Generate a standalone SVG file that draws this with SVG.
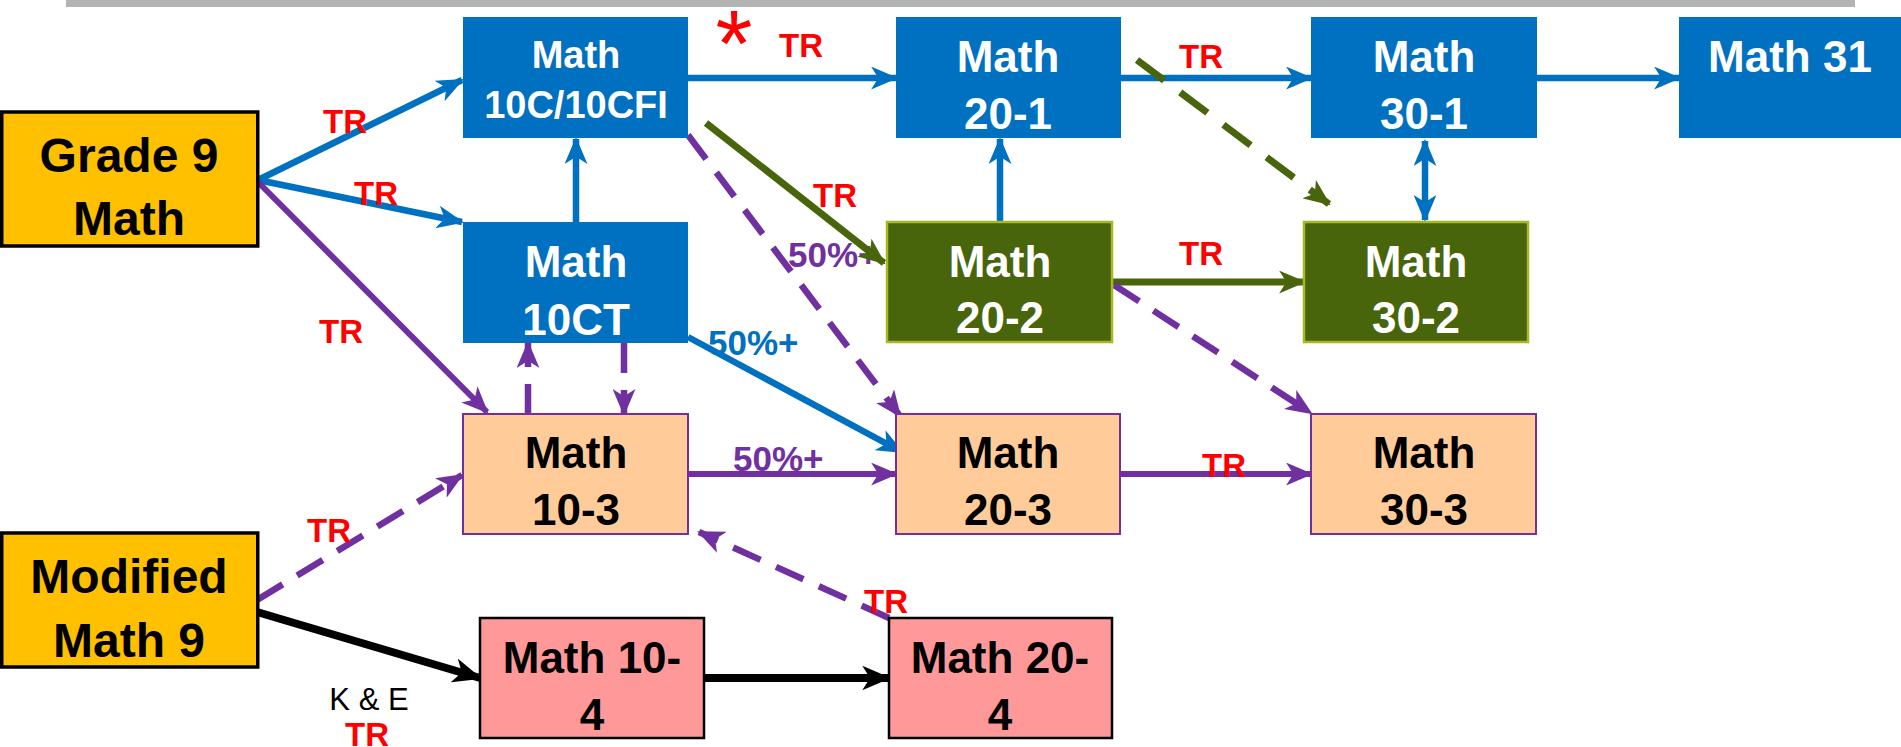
<svg xmlns="http://www.w3.org/2000/svg" width="1901" height="747" viewBox="0 0 1901 747">
<style>
text{font-family:"Liberation Sans",Arial,sans-serif;font-weight:bold;text-anchor:middle}
.n44{font-size:44px}
.n38{font-size:38px}
.n48{font-size:48px}
.w{fill:#fff}
.k{fill:#000}
.blue{fill:#0070C0}
.green{fill:#48650C;stroke:#A9B820;stroke-width:2.5}
.peach{fill:#FFCC99;stroke:#7030A0;stroke-width:2}
.pink{fill:#FF9999;stroke:#000;stroke-width:2.5}
.gold{fill:#FFC000;stroke:#000;stroke-width:3.5}
.tr{fill:#FF0000;font-size:33px}
.pct{font-size:35px;text-anchor:start}
.cb{stroke:#0070C0;stroke-width:6.5;fill:none;marker-end:url(#ab)}
.cg{stroke:#48650C;stroke-width:7;fill:none;marker-end:url(#ag)}
.cgd{stroke:#48650C;stroke-width:7;fill:none;stroke-dasharray:34 20;marker-end:url(#ag)}
.cp{stroke:#7030A0;stroke-width:6;fill:none;marker-end:url(#ap)}
.cpd{stroke:#7030A0;stroke-width:6.5;fill:none;stroke-dasharray:30 17;marker-end:url(#ap)}
.ck{stroke:#000;stroke-width:8;fill:none;marker-end:url(#ak)}
</style>
<defs>
<marker id="ab" viewBox="0 0 26 22" refX="24" refY="11" markerWidth="27" markerHeight="23" markerUnits="userSpaceOnUse" orient="auto-start-reverse"><path d="M0,0 L26,11 L0,22 L7,11 z" fill="#0070C0"/></marker>
<marker id="ag" viewBox="0 0 26 22" refX="24" refY="11" markerWidth="27" markerHeight="23" markerUnits="userSpaceOnUse" orient="auto"><path d="M0,0 L26,11 L0,22 L7,11 z" fill="#48650C"/></marker>
<marker id="ap" viewBox="0 0 26 22" refX="24" refY="11" markerWidth="27" markerHeight="23" markerUnits="userSpaceOnUse" orient="auto"><path d="M0,0 L26,11 L0,22 L7,11 z" fill="#7030A0"/></marker>
<marker id="ak" viewBox="0 0 26 22" refX="24" refY="11" markerWidth="29" markerHeight="25" markerUnits="userSpaceOnUse" orient="auto"><path d="M0,0 L26,11 L0,22 L7,11 z" fill="#000"/></marker>
</defs>
<rect x="0" y="0" width="1901" height="747" fill="#fff"/>
<rect x="66" y="0" width="1789" height="7" fill="#B3B3B3"/>

<g id="labels-under">
<text class="pct" x="788" y="267" fill="#7030A0">50%+</text>
<text class="pct" x="708" y="355" fill="#0070C0">50%+</text>
<text class="pct" x="733" y="471" fill="#7030A0">50%+</text>
</g>

<g id="connectors">
<line class="cb" x1="258" y1="180" x2="462" y2="80"/>
<line class="cb" x1="258" y1="180" x2="462" y2="222"/>
<line class="cb" x1="576" y1="222" x2="576" y2="139"/>
<line class="cb" x1="688" y1="78" x2="896" y2="78"/>
<line class="cb" x1="1121" y1="78" x2="1311" y2="78"/>
<line class="cb" x1="1537" y1="78" x2="1679" y2="78"/>
<line class="cb" x1="1000" y1="222" x2="1000" y2="139"/>
<line class="cb" x1="1425" y1="141" x2="1425" y2="220" marker-start="url(#ab)"/>
<line class="cb" x1="688" y1="337" x2="902" y2="452"/>
<line class="cg" x1="706" y1="123" x2="884" y2="263"/>
<line class="cg" x1="1112" y1="282" x2="1304" y2="282"/>
<line class="cgd" x1="1137" y1="60" x2="1329" y2="204"/>
<line class="cp" x1="258" y1="182" x2="487" y2="412"/>
<line class="cpd" x1="688" y1="135" x2="900" y2="416"/>
<line class="cpd" x1="528" y1="414" x2="528" y2="343"/>
<line class="cpd" x1="624" y1="343" x2="624" y2="414"/>
<line class="cp" x1="688" y1="474" x2="896" y2="474"/>
<line class="cp" x1="1120" y1="474" x2="1311" y2="474"/>
<line class="cpd" x1="1114" y1="285" x2="1311" y2="413"/>
<line class="cpd" x1="257" y1="600" x2="462" y2="475"/>
<line class="cpd" x1="889" y1="618" x2="699" y2="532"/>
<line class="ck" x1="257" y1="612" x2="480" y2="678"/>
<line class="ck" x1="704" y1="678" x2="889" y2="678"/>
</g>

<g id="grade9">
<rect class="gold" x="1.75" y="112" width="256" height="134"/>
<text class="n48 k" x="129" y="172">Grade 9</text>
<text class="n48 k" x="129" y="235">Math</text>
</g>
<g id="modified9">
<rect class="gold" x="1.75" y="533" width="256" height="134"/>
<text class="n48 k" x="129" y="593">Modified</text>
<text class="n48 k" x="129" y="657">Math 9</text>
</g>
<g id="math10c">
<rect class="blue" x="463" y="17" width="225" height="121"/>
<text class="n38 w" x="576" y="68">Math</text>
<text class="n38 w" x="576" y="118">10C/10CFI</text>
</g>
<g id="math10ct">
<rect class="blue" x="463" y="222" width="225" height="121"/>
<text class="n44 w" x="576" y="277">Math</text>
<text class="n44 w" x="576" y="335">10CT</text>
</g>
<g id="math10-3">
<rect class="peach" x="463" y="414" width="225" height="120"/>
<text class="n44 k" x="576" y="468">Math</text>
<text class="n44 k" x="576" y="525">10-3</text>
</g>
<g id="math10-4">
<rect class="pink" x="480" y="618" width="224" height="120"/>
<text class="n44 k" x="592" y="673">Math 10-</text>
<text class="n44 k" x="592" y="730">4</text>
</g>
<g id="math20-1">
<rect class="blue" x="896" y="17" width="225" height="121"/>
<text class="n44 w" x="1008" y="72">Math</text>
<text class="n44 w" x="1008" y="129">20-1</text>
</g>
<g id="math20-2">
<rect class="green" x="887" y="222" width="225" height="120"/>
<text class="n44 w" x="1000" y="277">Math</text>
<text class="n44 w" x="1000" y="333">20-2</text>
</g>
<g id="math20-3">
<rect class="peach" x="896" y="414" width="224" height="120"/>
<text class="n44 k" x="1008" y="468">Math</text>
<text class="n44 k" x="1008" y="525">20-3</text>
</g>
<g id="math20-4">
<rect class="pink" x="889" y="618" width="223" height="120"/>
<text class="n44 k" x="1000" y="673">Math 20-</text>
<text class="n44 k" x="1000" y="730">4</text>
</g>
<g id="math30-1">
<rect class="blue" x="1311" y="17" width="226" height="121"/>
<text class="n44 w" x="1424" y="72">Math</text>
<text class="n44 w" x="1424" y="129">30-1</text>
</g>
<g id="math30-2">
<rect class="green" x="1304" y="222" width="224" height="120"/>
<text class="n44 w" x="1416" y="277">Math</text>
<text class="n44 w" x="1416" y="333">30-2</text>
</g>
<g id="math30-3">
<rect class="peach" x="1311" y="414" width="225" height="120"/>
<text class="n44 k" x="1424" y="468">Math</text>
<text class="n44 k" x="1424" y="525">30-3</text>
</g>
<g id="math31">
<rect class="blue" x="1679" y="17" width="222" height="121"/>
<text class="n44 w" x="1790" y="72">Math 31</text>
</g>

<g id="labels">
<text class="tr" x="345" y="133">TR</text>
<text class="tr" x="376" y="205">TR</text>
<text x="734" y="76" style="font-size:95px;fill:#FF0000;font-weight:normal">*</text>
<text class="tr" x="801" y="57">TR</text>
<text class="tr" x="1201" y="68">TR</text>
<text class="tr" x="835" y="207">TR</text>
<text class="tr" x="341" y="343">TR</text>
<text class="tr" x="1201" y="265">TR</text>
<text class="tr" x="1224" y="477">TR</text>
<text class="tr" x="329" y="542">TR</text>
<text class="tr" x="886" y="613">TR</text>
<text x="369" y="710" style="font-size:31px;font-weight:normal;fill:#000">K &amp; E</text>
<text class="tr" x="367" y="746">TR</text>
</g>
</svg>
